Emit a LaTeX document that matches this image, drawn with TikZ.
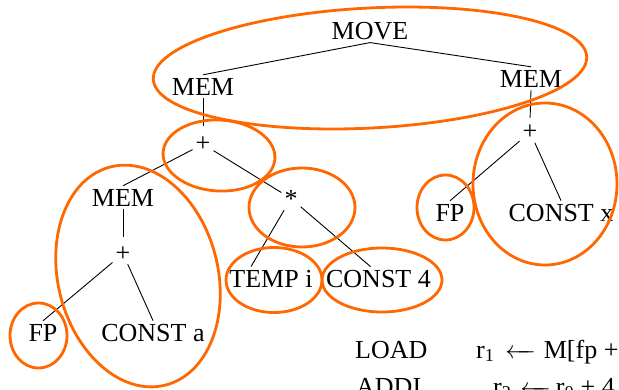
\documentclass[tikz,border=0pt]{standalone}
\usepackage{fontspec}
\setmainfont{Liberation Serif}
\definecolor{tileorange}{RGB}{255,104,0}
\newcommand{\getsarrow}{$\leftarrow\mkern-10mu\relbar$}

\begin{document}
\begin{tikzpicture}[x=1pt, y=-1pt,
  lbl/.style={anchor=base, inner sep=3pt, font=\fontsize{26}{30}\selectfont},
  edge/.style={line width=0.9pt},
  ring/.style={draw=tileorange, line width=2.8pt}]
  \useasboundingbox (0,0) rectangle (619,389);
  \clip (0,0) rectangle (619,389);

  \node[lbl] (move) at (370,39) {MOVE};
  \node[lbl] (memleft) at (203,95) {MEM};
  \node[lbl] (memright) at (531,87) {MEM};
  \node[lbl] (plustop) at (203,151.5) {+};
  \node[lbl] (memmid) at (123,206) {MEM};
  \node[lbl] (star) at (291,207) {*};
  \node[lbl] (plusmid) at (123,261) {+};
  \node[lbl] (fpleft) at (43,341) {FP};
  \node[lbl] (consta) at (153,341) {CONST a};
  \node[lbl] (tempi) at (271,287) {TEMP i};
  \node[lbl] (constfour) at (378.5,287) {CONST 4};
  \node[lbl] (plusright) at (530,139.5) {+};
  \node[lbl] (fpright) at (450,221) {FP};
  \node[lbl] (constx) at (561,221) {CONST x};

  \node[lbl, anchor=base west] (load) at (352,358) {LOAD};
  \node[lbl, anchor=base west] (loadop) at (473,358) {r\textsubscript{1}\hspace{11pt}\getsarrow\hspace{8pt}M[fp +};
  \node[lbl, anchor=base west] (addi) at (353,395) {ADDI};
  \node[lbl, anchor=base west] (addiop) at (490,395) {r\textsubscript{2}\hspace{9pt}\getsarrow\hspace{5pt}r\textsubscript{0} + 4};

  \draw[edge] (move.south) -- (memleft.north);
  \draw[edge] (move.south) -- (memright.north);
  \draw[edge, shorten >=8pt] (memleft.south) -- (plustop.north);
  \draw[edge] (plustop) -- (memmid.north);
  \draw[edge] (plustop) -- (star);
  \draw[edge, shorten >=6pt] (memmid.south) -- (plusmid.north);
  \draw[edge] (plusmid) -- (fpleft.north);
  \draw[edge] (plusmid) -- (consta.north);
  \draw[edge] (star) -- ([xshift=-20pt]tempi.north);
  \draw[edge] (star) -- ([xshift=-8pt]constfour.north);
  \draw[edge, shorten >=4pt] (memright.south) -- (plusright.north);
  \draw[edge] (plusright) -- (fpright.north);
  \draw[edge] (plusright) -- (constx.north);

  \draw[ring, rotate around={3:(370,68)}] (370,68) ellipse (217 and 60);
  \draw[ring, rotate around={-3:(219,155.5)}] (219,155.5) ellipse (56 and 35.5);
  \draw[ring] (302,207.5) ellipse (53 and 39.5);
  \draw[ring] (274,280) ellipse (48 and 32.5);
  \draw[ring] (382,280) ellipse (60 and 32);
  \draw[ring] (38.5,335.5) ellipse (28.5 and 32.5);
  \draw[ring, rotate around={14:(138,276)}] (138,276) ellipse (80 and 112.5);
  \draw[ring] (445.5,207.5) ellipse (28.5 and 32.5);
  \draw[ring] (545,184) ellipse (72 and 81);
\end{tikzpicture}
\end{document}
